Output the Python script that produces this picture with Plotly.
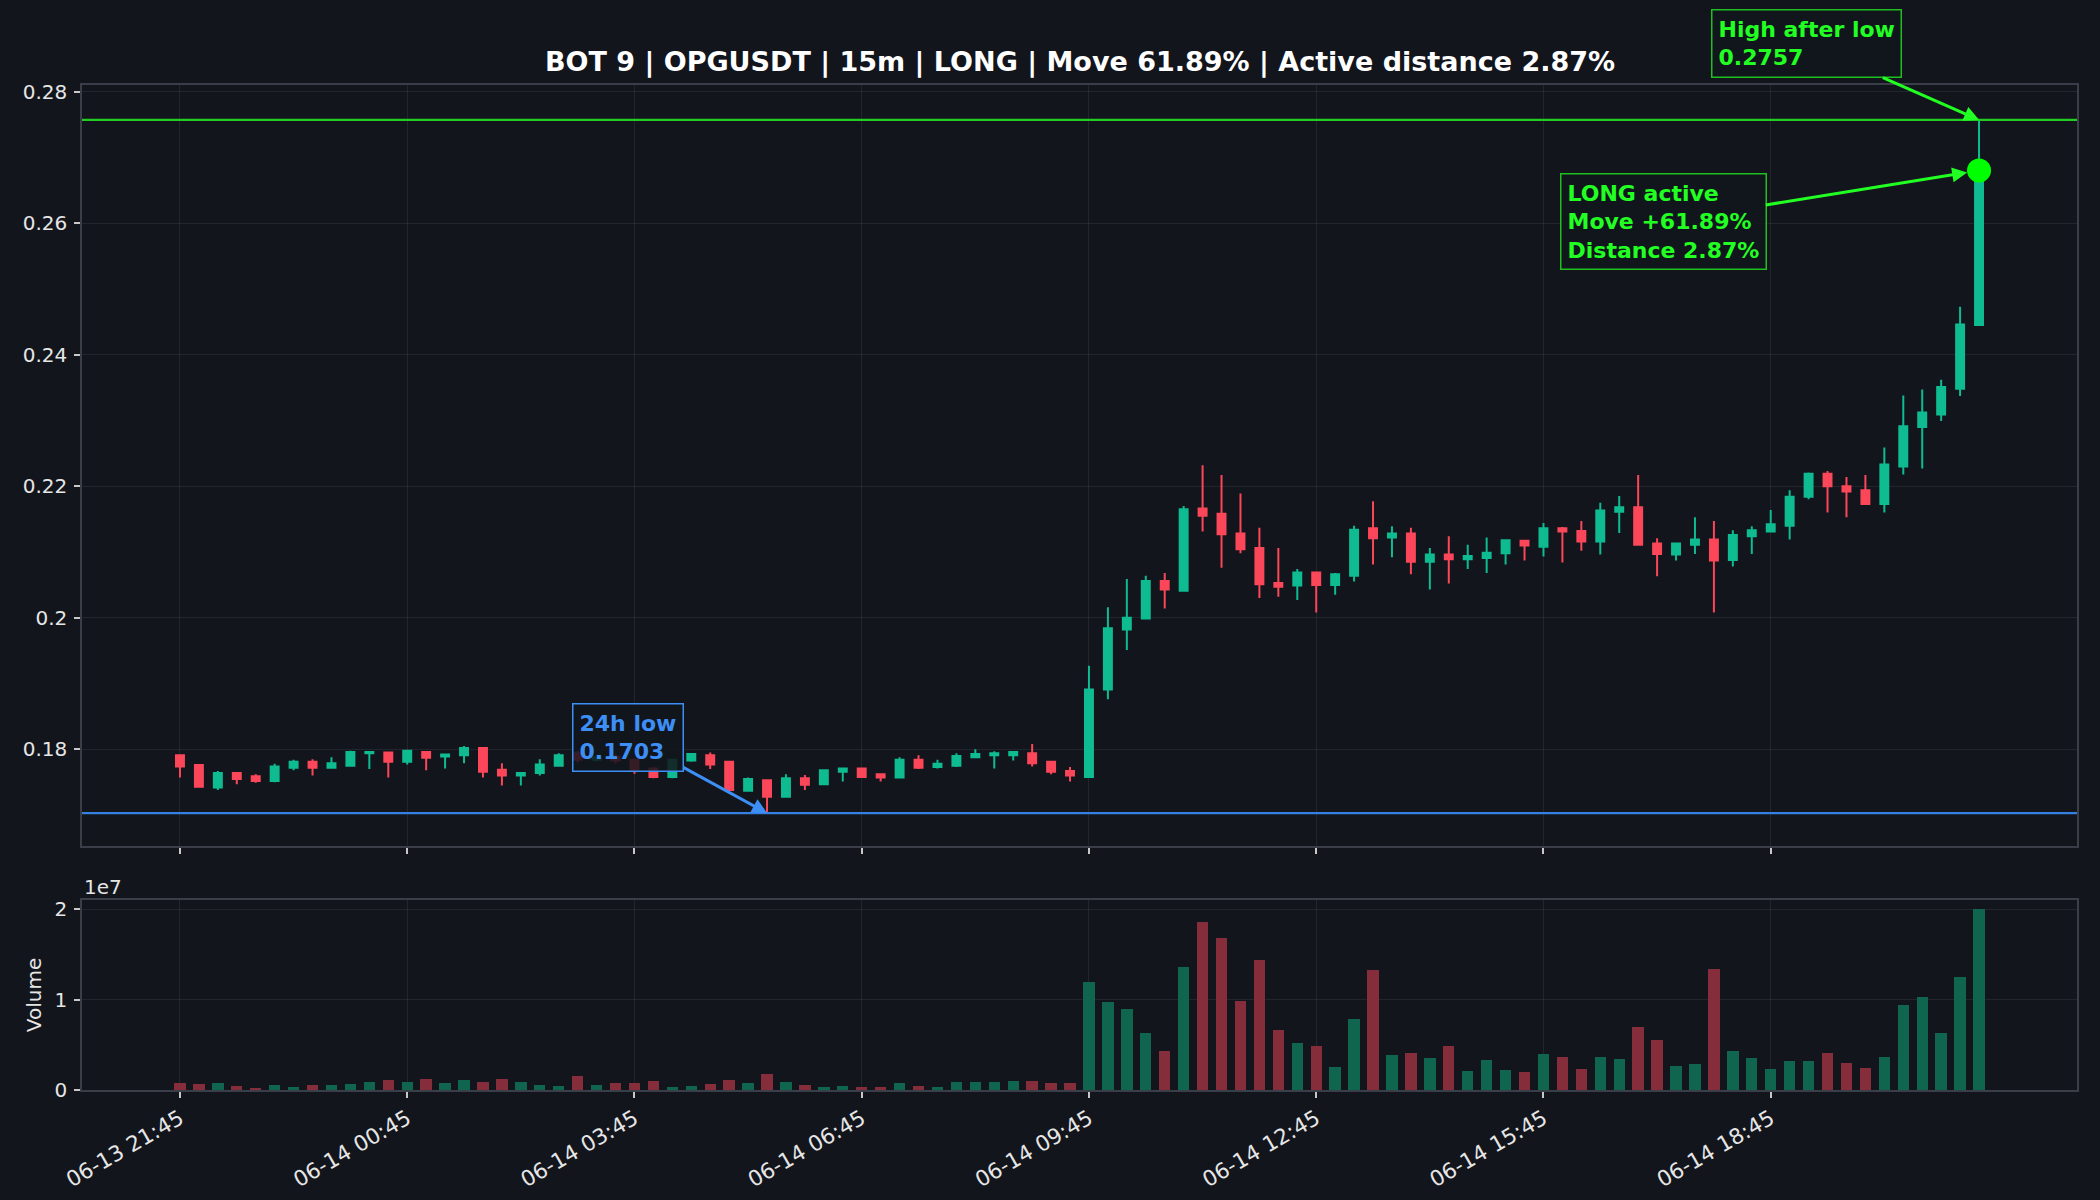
import pandas as pd
import plotly.graph_objects as go

# ---------------- data ----------------
start_time = "2025-06-13 21:45"
n_candles = 96
times = pd.date_range(start_time, periods=n_candles, freq="15min")

opens = [0.1791, 0.1776, 0.1742, 0.1764, 0.1759, 0.1752, 0.1772, 0.1781, 0.1772, 0.1775,
         0.1794, 0.1795, 0.1781, 0.1796, 0.1789, 0.1791, 0.1802, 0.1769, 0.1760, 0.1764,
         0.1775, 0.1794, 0.1784, 0.1789, 0.1784, 0.1771, 0.1758, 0.1783, 0.1791, 0.1781,
         0.1737, 0.1753, 0.1728, 0.1756, 0.1747, 0.1766, 0.1771, 0.1762, 0.1757, 0.1784,
         0.1773, 0.1775, 0.1788, 0.1791, 0.1791, 0.1794, 0.1781, 0.1767, 0.1758, 0.1891,
         0.1982, 0.1999, 0.2056, 0.2041, 0.2166, 0.2158, 0.2128, 0.2106, 0.2053, 0.2049,
         0.2069, 0.2050, 0.2064, 0.2136, 0.2122, 0.2128, 0.2085, 0.2096, 0.2089, 0.2091,
         0.2098, 0.2117, 0.2108, 0.2136, 0.2132, 0.2116, 0.2161, 0.2168, 0.2113, 0.2096,
         0.2111, 0.2119, 0.2088, 0.2124, 0.2131, 0.2140, 0.2184, 0.2219, 0.2200, 0.2194,
         0.2173, 0.2230, 0.2290, 0.2309, 0.2348, 0.2445]
highs = [0.1792, 0.1777, 0.1767, 0.1765, 0.1762, 0.1778, 0.1784, 0.1785, 0.1788, 0.1798,
         0.1797, 0.1796, 0.1799, 0.1797, 0.1792, 0.1805, 0.1802, 0.1779, 0.1764, 0.1785,
         0.1794, 0.1798, 0.1791, 0.1792, 0.1786, 0.1773, 0.1785, 0.1794, 0.1795, 0.1782,
         0.1757, 0.1754, 0.1762, 0.1761, 0.1768, 0.1772, 0.1771, 0.1762, 0.1788, 0.1791,
         0.1784, 0.1794, 0.1800, 0.1797, 0.1797, 0.1808, 0.1781, 0.1773, 0.1927, 0.2016,
         0.2059, 0.2064, 0.2068, 0.2170, 0.2232, 0.2217, 0.2189, 0.2137, 0.2106, 0.2074,
         0.2069, 0.2068, 0.2140, 0.2177, 0.2139, 0.2137, 0.2106, 0.2124, 0.2111, 0.2122,
         0.2119, 0.2118, 0.2144, 0.2138, 0.2147, 0.2175, 0.2185, 0.2217, 0.2121, 0.2114,
         0.2153, 0.2147, 0.2133, 0.2139, 0.2164, 0.2194, 0.2221, 0.2223, 0.2214, 0.2217,
         0.2259, 0.2338, 0.2347, 0.2362, 0.2473, 0.2757]
lows = [0.1757, 0.1743, 0.1738, 0.1747, 0.1749, 0.1750, 0.1768, 0.1760, 0.1771, 0.1774,
        0.1770, 0.1757, 0.1777, 0.1768, 0.1771, 0.1779, 0.1757, 0.1745, 0.1745, 0.1760,
        0.1774, 0.1780, 0.1781, 0.1778, 0.1763, 0.1756, 0.1756, 0.1781, 0.1770, 0.1737,
        0.1736, 0.1703, 0.1727, 0.1738, 0.1746, 0.1751, 0.1758, 0.1751, 0.1757, 0.1770,
        0.1771, 0.1773, 0.1787, 0.1771, 0.1783, 0.1774, 0.1762, 0.1751, 0.1758, 0.1876,
        0.1951, 0.1999, 0.2014, 0.2040, 0.2131, 0.2076, 0.2098, 0.2030, 0.2032, 0.2027,
        0.2008, 0.2035, 0.2055, 0.2081, 0.2092, 0.2066, 0.2043, 0.2052, 0.2074, 0.2068,
        0.2081, 0.2087, 0.2093, 0.2084, 0.2102, 0.2096, 0.2129, 0.2110, 0.2063, 0.2087,
        0.2097, 0.2008, 0.2078, 0.2097, 0.2130, 0.2119, 0.2180, 0.2160, 0.2153, 0.2173,
        0.2160, 0.2218, 0.2227, 0.2299, 0.2337, 0.2444]
closes = [0.1774, 0.1743, 0.1764, 0.1755, 0.1752, 0.1774, 0.1781, 0.1772, 0.1779, 0.1796,
          0.1796, 0.1781, 0.1798, 0.1787, 0.1792, 0.1802, 0.1766, 0.1760, 0.1764, 0.1777,
          0.1791, 0.1784, 0.1788, 0.1783, 0.1767, 0.1758, 0.1784, 0.1793, 0.1777, 0.1738,
          0.1755, 0.1728, 0.1756, 0.1746, 0.1768, 0.1771, 0.1758, 0.1757, 0.1784, 0.1772,
          0.1778, 0.1790, 0.1793, 0.1794, 0.1796, 0.1779, 0.1766, 0.1760, 0.1891, 0.1984,
          0.2000, 0.2056, 0.2043, 0.2165, 0.2155, 0.2127, 0.2104, 0.2051, 0.2047, 0.2069,
          0.2050, 0.2066, 0.2134, 0.2121, 0.2128, 0.2085, 0.2096, 0.2089, 0.2094, 0.2099,
          0.2118, 0.2110, 0.2136, 0.2131, 0.2116, 0.2163, 0.2168, 0.2111, 0.2097, 0.2113,
          0.2119, 0.2087, 0.2126, 0.2133, 0.2142, 0.2184, 0.2219, 0.2200, 0.2192, 0.2173,
          0.2233, 0.2291, 0.2312, 0.2351, 0.2446, 0.2680]
volumes = [0.81e6, 0.70e6, 0.81e6, 0.48e6, 0.26e6, 0.59e6, 0.37e6, 0.59e6, 0.59e6, 0.70e6,
           0.92e6, 1.15e6, 0.92e6, 1.26e6, 0.81e6, 1.15e6, 0.92e6, 1.26e6, 0.92e6, 0.59e6,
           0.48e6, 1.59e6, 0.59e6, 0.81e6, 0.81e6, 1.04e6, 0.37e6, 0.48e6, 0.70e6, 1.15e6,
           0.81e6, 1.81e6, 0.92e6, 0.59e6, 0.37e6, 0.48e6, 0.37e6, 0.37e6, 0.81e6, 0.48e6,
           0.37e6, 0.92e6, 0.92e6, 0.92e6, 1.04e6, 1.04e6, 0.81e6, 0.81e6, 11.9e6, 9.78e6,
           9.0e6, 6.32e6, 4.31e6, 13.57e6, 18.59e6, 16.8e6, 9.89e6, 14.35e6, 6.65e6, 5.2e6,
           4.87e6, 2.53e6, 7.88e6, 13.23e6, 3.87e6, 4.09e6, 3.53e6, 4.87e6, 2.08e6, 3.31e6,
           2.19e6, 1.97e6, 3.98e6, 3.64e6, 2.3e6, 3.64e6, 3.42e6, 6.99e6, 5.54e6, 2.64e6,
           2.86e6, 13.35e6, 4.31e6, 3.53e6, 2.3e6, 3.2e6, 3.2e6, 4.09e6, 2.97e6, 2.42e6,
           3.64e6, 9.44e6, 10.33e6, 6.32e6, 12.45e6, 20.0e6]

tick_labels = ["06-13 21:45", "06-14 00:45", "06-14 03:45", "06-14 06:45",
               "06-14 09:45", "06-14 12:45", "06-14 15:45", "06-14 18:45"]
tick_times = list(times[::12])

price_ticks = [0.18, 0.20, 0.22, 0.24, 0.26, 0.28]
price_tick_text = ["0.18", "0.2", "0.22", "0.24", "0.26", "0.28"]
vol_ticks = [0, 1e7, 2e7]
vol_tick_text = ["0", "1", "2"]

low_24h = 0.1703
low_idx = 31
high_after_low = 0.2757
title_text = "BOT 9 | OPGUSDT | 15m | LONG | Move 61.89% | Active distance 2.87%"

# ---------------- style ----------------
BG = "#12151c"
GREEN = "#0fbb90"
RED = "#fb4759"
VOL_GREEN = "#10654f"
VOL_RED = "#862d3b"
GRID = "rgba(255,255,255,0.07)"
SPINE = "#3a3e48"
TXT = "#e6e6e6"
LIME = "#22ff22"
LIME_LINE = "#22cc22"
LIME_BOX = "#1fbf1f"
BLUE = "#3d8ff5"
BLUE_LINE = "#3580e0"
FONT = "DejaVu Sans"

vol_colors = [VOL_GREEN if c >= o else VOL_RED for o, c in zip(opens, closes)]

W, H = 2100, 1200
x_dom = [82 / W, 2077 / W]
main_dom = [1 - 846 / H, 1 - 85 / H]
vol_dom = [1 - 1090 / H, 1 - 900 / H]
pad = pd.Timedelta(minutes=77.6)
x_range = [(times[0] - pad).isoformat(), (times[-1] + pad).isoformat()]

fig = go.Figure()
fig.add_trace(go.Candlestick(
    x=times, open=opens, high=highs, low=lows, close=closes,
    increasing=dict(line=dict(color=GREEN, width=2), fillcolor=GREEN),
    decreasing=dict(line=dict(color=RED, width=2), fillcolor=RED),
    whiskerwidth=0, showlegend=False, xaxis="x", yaxis="y", hoverinfo="skip"))
fig.add_trace(go.Bar(
    x=times, y=volumes, marker=dict(color=vol_colors, line=dict(width=0)),
    width=0.6 * 15 * 60 * 1000, showlegend=False, xaxis="x2", yaxis="y2"))
fig.add_trace(go.Scatter(
    x=[times[-1]], y=[closes[-1]], mode="markers",
    marker=dict(size=24, color="#00ff00"), showlegend=False, xaxis="x", yaxis="y"))

axis_common = dict(showgrid=True, gridcolor=GRID, gridwidth=1, zeroline=False,
                   showline=True, mirror=True, linecolor=SPINE, linewidth=1.5,
                   ticks="outside", ticklen=6, tickwidth=1.5, tickcolor="#c8c8c8",
                   automargin=False,
                   tickfont=dict(family=FONT, size=20, color=TXT))

fig.update_layout(
    width=W, height=H, autosize=False,
    margin=dict(l=0, r=0, t=0, b=0, autoexpand=False),
    paper_bgcolor=BG, plot_bgcolor=BG,
    boxgap=0.4,
    bargap=0,
    font=dict(family=FONT, color=TXT),
    title=dict(text="<b>" + title_text + "</b>", x=1080 / W, xanchor="center",
               y=1 - 62 / H, yanchor="middle", automargin=False,
               font=dict(family=FONT, size=27, color="#ffffff")),
    xaxis=dict(axis_common, domain=x_dom, anchor="y", type="date", range=x_range,
               tickvals=tick_times, ticktext=tick_labels, showticklabels=False,
               rangeslider=dict(visible=False)),
    yaxis=dict(axis_common, domain=main_dom, anchor="x", range=[0.1653, 0.2810],
               tickvals=price_ticks, ticktext=price_tick_text, ticklabelstandoff=3),
    xaxis2=dict(axis_common, domain=x_dom, anchor="y2", type="date", range=x_range,
                matches="x", tickvals=tick_times, ticktext=tick_labels, tickangle=-30,
                tickfont=dict(family=FONT, size=21.5, color=TXT)),
    yaxis2=dict(axis_common, domain=vol_dom, anchor="x2", range=[0, 2.1e7],
                tickvals=vol_ticks, ticktext=vol_tick_text, ticklabelstandoff=3,
                title=dict(text="Volume", standoff=8,
                           font=dict(family=FONT, size=20, color=TXT))),
)

fig.add_shape(type="line", xref="x domain", yref="y", x0=0, x1=1,
              y0=high_after_low, y1=high_after_low, line=dict(color=LIME_LINE, width=2.2))
fig.add_shape(type="line", xref="x domain", yref="y", x0=0, x1=1,
              y0=low_24h, y1=low_24h, line=dict(color=BLUE_LINE, width=2.2))

ann_font = dict(family=FONT, size=22)
fig.add_annotation(
    x=times[low_idx], y=low_24h, xref="x", yref="y",
    text="<b>24h low<br>%.4f</b>" % low_24h, align="left",
    font=dict(ann_font, color=BLUE), ax=-139, ay=-76,
    showarrow=True, arrowhead=2, arrowsize=1, arrowwidth=3, arrowcolor=BLUE,
    bordercolor=BLUE, borderwidth=1.5, borderpad=6, bgcolor="rgba(18,21,28,0.85)")
fig.add_annotation(
    x=times[-1], y=high_after_low, xref="x", yref="y",
    text="<b>High after low<br>%.4f</b>" % high_after_low, align="left",
    font=dict(ann_font, color=LIME), ax=-173, ay=-76,
    showarrow=True, arrowhead=2, arrowsize=1, arrowwidth=3, arrowcolor=LIME,
    bordercolor=LIME_BOX, borderwidth=1.5, borderpad=6, bgcolor="rgba(18,21,28,0.85)")
fig.add_annotation(
    x=times[-1], y=closes[-1], xref="x", yref="y",
    text="<b>LONG active<br>Move +61.89%<br>Distance 2.87%</b>", align="left",
    font=dict(ann_font, color=LIME), ax=-316, ay=51, standoff=12,
    showarrow=True, arrowhead=2, arrowsize=1, arrowwidth=3, arrowcolor=LIME,
    bordercolor=LIME_BOX, borderwidth=1.5, borderpad=6, bgcolor="rgba(18,21,28,0.85)")
fig.add_annotation(
    x=x_dom[0], y=1 - 887 / H, xref="paper", yref="paper", xanchor="left",
    yanchor="middle", text="1e7", showarrow=False,
    font=dict(family=FONT, size=20, color=TXT))

fig.write_html("out.html")
